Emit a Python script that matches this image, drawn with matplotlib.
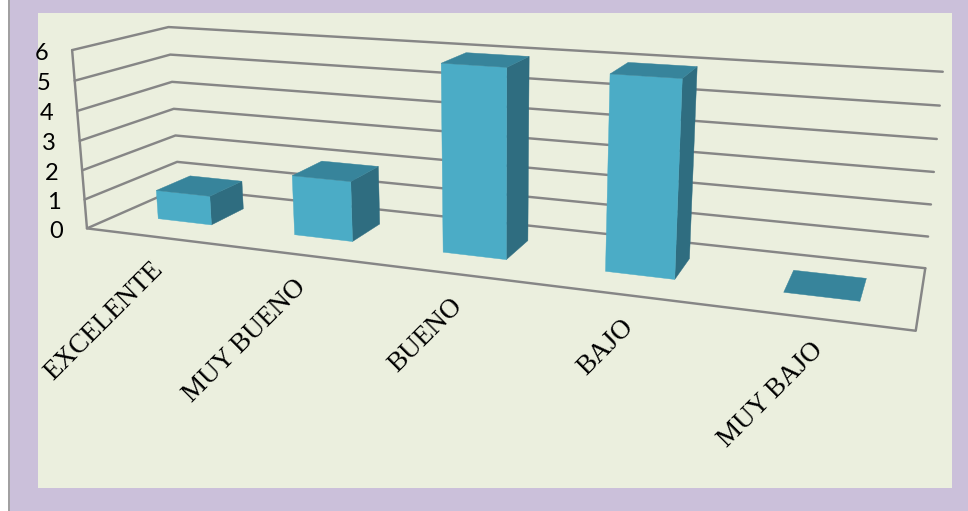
import matplotlib
matplotlib.use("Agg")
import matplotlib.pyplot as plt
from matplotlib.patches import Polygon, Rectangle
import numpy as np

# data
categories = ["EXCELENTE", "MUY BUENO", "BUENO", "BAJO", "MUY BAJO"]
values = [1, 2, 6, 6, 0]
y_ticks = [0, 1, 2, 3, 4, 5, 6]

# colours
page_color = "#CBC0DA"
panel_color = "#EBEFDE"
grid_color = "#868686"
front_color = "#4BACC6"
top_color = "#37849B"
side_color = "#2F6D80"

bar_width = 0.4      # excel gap width of 150%
depth_front = 0.33
depth_back = 0.71

# camera fit: (category pos, depth, value) -> pixel, taken from the chart frame
frame_3d = np.array([
    [0, 0, 0], [5, 0, 0], [0, 1, 0], [5, 1, 0],
    [0, 1, 6], [5, 1, 6], [0, 0, 6],
    [0, 1, 3], [5, 1, 3], [0, 0, 3],
    [2.3, depth_front, 0], [3.7, depth_front, 0], [0.3, depth_front, 0], [4.7, depth_front, 0],
    [2.3, depth_front, 6], [3.7, depth_front, 6],
], dtype=float)
frame_px = np.array([
    [88, 228], [916, 329], [180, 187], [925, 267],
    [168, 27], [943, 72], [72, 49],
    [174, 109], [934, 172], [81, 140],
    [443, 254], [675, 280], [155, 220], [860, 302],
    [441, 65], [682, 78],
], dtype=float)


def fit_camera(pts, px):
    rows = []
    for (x, y, z), (u, v) in zip(pts, px):
        rows.append([x, y, z, 1, 0, 0, 0, 0, -u * x, -u * y, -u * z, -u])
        rows.append([0, 0, 0, 0, x, y, z, 1, -v * x, -v * y, -v * z, -v])
    return np.linalg.svd(np.array(rows))[2][-1].reshape(3, 4)


camera = fit_camera(frame_3d, frame_px)


def project(x, y, z):
    p = camera @ np.array([x, y, z, 1.0])
    return p[0] / p[2], p[1] / p[2]


def face(ax, corners, color, z):
    ax.add_patch(Polygon([project(*c) for c in corners], closed=True, facecolor=color,
                         edgecolor=color, linewidth=0.3, zorder=z))


fig = plt.figure(figsize=(9.68, 5.11), dpi=100, facecolor=page_color)
ax = fig.add_axes([0, 0, 1, 1])
ax.set_xlim(0, 968)
ax.set_ylim(511, 0)
ax.axis("off")

# page background
ax.add_patch(Rectangle((0, 0), 8, 511, facecolor="white", edgecolor="none", zorder=0))
ax.plot([8.5, 8.5], [0, 511], color="#A0A0A0", linewidth=1.4, zorder=1)
ax.add_patch(Rectangle((38, 13), 914, 475, facecolor=panel_color, edgecolor="none", zorder=1))

# walls and floor
line_style = dict(color=grid_color, linewidth=1.75, solid_capstyle="round", zorder=2)
n_cat = len(categories)
for t in y_ticks:
    pts = [project(0, 0, t), project(0, 1, t), project(n_cat, 1, t)]
    ax.plot([p[0] for p in pts], [p[1] for p in pts], **line_style)
    lx, ly = project(0, 0, t)
    ax.text(lx - 24, ly + 3, str(t), ha="right", va="center", fontsize=17,
            family="Lato", color="black", zorder=5)

outline = [project(0, 0, y_ticks[-1]), project(0, 0, 0), project(n_cat, 0, 0), project(n_cat, 1, 0)]
ax.plot([p[0] for p in outline], [p[1] for p in outline], **line_style)

# bars
for i, val in enumerate(values):
    x0 = i + (1 - bar_width) / 2
    x1 = x0 + bar_width
    y0, y1 = depth_front, depth_back
    if val > 0:
        face(ax, [(x1, y0, 0), (x1, y1, 0), (x1, y1, val), (x1, y0, val)], side_color, 3)
        face(ax, [(x0, y0, 0), (x1, y0, 0), (x1, y0, val), (x0, y0, val)], front_color, 3)
    face(ax, [(x0, y0, val), (x1, y0, val), (x1, y1, val), (x0, y1, val)], top_color, 3)

# category labels
for i, name in enumerate(categories):
    lx, ly = project(i + 0.5, 0, 0)
    ax.text(lx - 3, ly + 20, name, rotation=45, rotation_mode="anchor", ha="right", va="top",
            fontsize=19.5, family="Liberation Serif", color="black", zorder=5)

fig.savefig("out.png", dpi=100, facecolor=page_color)
